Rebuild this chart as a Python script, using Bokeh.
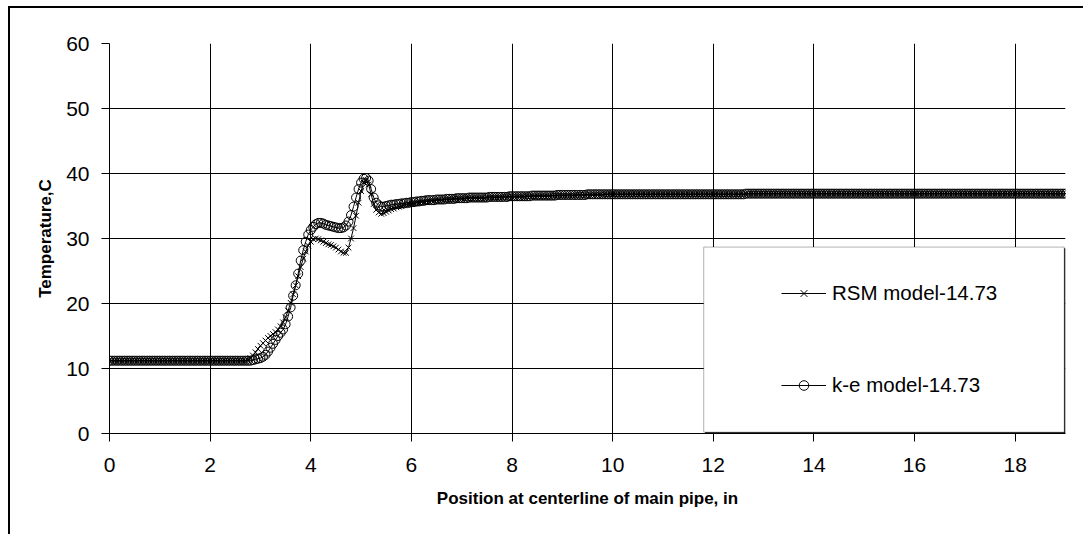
from bokeh.plotting import figure
from bokeh.models import Legend, LegendItem, BoxAnnotation, FixedTicker, Range1d
from bokeh.embed import file_html
from bokeh.resources import INLINE

# ---- data ----
x_pos = [
    0.00, 0.05, 0.10, 0.15, 0.20, 0.25, 0.30, 0.35, 0.40, 0.45, 0.50, 0.55, 0.60, 0.65, 0.70, 0.75, 0.80, 0.85, 0.90, 0.95,
    1.00, 1.05, 1.10, 1.15, 1.20, 1.25, 1.30, 1.35, 1.40, 1.45, 1.50, 1.55, 1.60, 1.65, 1.70, 1.75, 1.80, 1.85, 1.90, 1.95,
    2.00, 2.05, 2.10, 2.15, 2.20, 2.25, 2.30, 2.35, 2.40, 2.45, 2.50, 2.55, 2.60, 2.65, 2.70,
    2.75, 2.80, 2.85, 2.90, 2.95, 3.00, 3.05, 3.10, 3.15, 3.20, 3.25, 3.30, 3.35, 3.40, 3.45, 3.50, 3.55, 3.60, 3.65, 3.70,
    3.75, 3.80, 3.85, 3.90, 3.95, 4.00, 4.05, 4.10, 4.15, 4.20, 4.25, 4.30, 4.35, 4.40, 4.45, 4.50, 4.55, 4.60, 4.65, 4.70,
    4.75, 4.80, 4.85, 4.90, 4.95, 5.00, 5.05, 5.10, 5.15, 5.20, 5.25, 5.30, 5.35, 5.40, 5.45, 5.50, 5.55, 5.60,
    5.65, 5.70, 5.75, 5.80, 5.85, 5.90, 5.95, 6.00, 6.05, 6.10, 6.15, 6.20, 6.25, 6.30, 6.35, 6.40, 6.45, 6.50, 6.55, 6.60,
    6.65, 6.70, 6.75, 6.80, 6.85, 6.90, 6.95, 7.00, 7.05, 7.10, 7.15, 7.20, 7.25, 7.30, 7.35, 7.40, 7.45, 7.50, 7.55, 7.60,
    7.65, 7.70, 7.75, 7.80, 7.85, 7.90, 7.95, 8.00, 8.05, 8.10, 8.15, 8.20, 8.25, 8.30, 8.35, 8.40, 8.45, 8.50, 8.55, 8.60,
    8.65, 8.70, 8.75, 8.80, 8.85, 8.90, 8.95, 9.00, 9.05, 9.10, 9.15, 9.20, 9.25, 9.30, 9.35, 9.40, 9.45, 9.50, 9.55, 9.60,
    9.65, 9.70, 9.75, 9.80, 9.85, 9.90, 9.95, 10.00, 10.05, 10.10, 10.15, 10.20, 10.25, 10.30, 10.35, 10.40, 10.45, 10.50, 10.55, 10.60,
    10.65, 10.70, 10.75, 10.80, 10.85, 10.90, 10.95, 11.00, 11.05, 11.10, 11.15, 11.20, 11.25, 11.30, 11.35, 11.40, 11.45, 11.50, 11.55, 11.60,
    11.65, 11.70, 11.75, 11.80, 11.85, 11.90, 11.95, 12.00, 12.05, 12.10, 12.15, 12.20, 12.25, 12.30, 12.35, 12.40, 12.45, 12.50, 12.55, 12.60,
    12.65, 12.70, 12.75, 12.80, 12.85, 12.90, 12.95, 13.00, 13.05, 13.10, 13.15, 13.20, 13.25, 13.30, 13.35, 13.40, 13.45, 13.50, 13.55, 13.60,
    13.65, 13.70, 13.75, 13.80, 13.85, 13.90, 13.95, 14.00, 14.05, 14.10, 14.15, 14.20, 14.25, 14.30, 14.35, 14.40, 14.45, 14.50, 14.55, 14.60,
    14.65, 14.70, 14.75, 14.80, 14.85, 14.90, 14.95, 15.00, 15.05, 15.10, 15.15, 15.20, 15.25, 15.30, 15.35, 15.40, 15.45, 15.50, 15.55, 15.60,
    15.65, 15.70, 15.75, 15.80, 15.85, 15.90, 15.95, 16.00, 16.05, 16.10, 16.15, 16.20, 16.25, 16.30, 16.35, 16.40, 16.45, 16.50, 16.55, 16.60,
    16.65, 16.70, 16.75, 16.80, 16.85, 16.90, 16.95, 17.00, 17.05, 17.10, 17.15, 17.20, 17.25, 17.30, 17.35, 17.40, 17.45, 17.50, 17.55, 17.60,
    17.65, 17.70, 17.75, 17.80, 17.85, 17.90, 17.95, 18.00, 18.05, 18.10, 18.15, 18.20, 18.25, 18.30, 18.35, 18.40, 18.45, 18.50, 18.55, 18.60,
    18.65, 18.70, 18.75, 18.80, 18.85, 18.90, 18.95, 19.00,
]

t_rsm = [
    11.2, 11.2, 11.2, 11.2, 11.2, 11.2, 11.2, 11.2, 11.2, 11.2, 11.2, 11.2, 11.2, 11.2, 11.2, 11.2, 11.2, 11.2, 11.2, 11.2,
    11.2, 11.2, 11.2, 11.2, 11.2, 11.2, 11.2, 11.2, 11.2, 11.2, 11.2, 11.2, 11.2, 11.2, 11.2, 11.2, 11.2, 11.2, 11.2, 11.2,
    11.2, 11.2, 11.2, 11.2, 11.2, 11.2, 11.2, 11.2, 11.2, 11.2, 11.2, 11.2, 11.2, 11.2, 11.2,
    11.3, 11.6, 12.0, 12.5, 13.0, 13.5, 13.9, 14.3, 14.7, 15.0, 15.3, 15.6, 16.0, 16.5, 17.1, 17.9, 18.9, 20.1, 21.4, 22.8,
    24.2, 25.6, 26.9, 28.0, 28.9, 29.5, 29.9, 30.0, 29.9, 29.7, 29.5, 29.3, 29.1, 29.0, 28.8, 28.6, 28.3, 28.0, 27.8, 27.8,
    28.6, 30.0, 31.6, 33.5, 35.5, 37.3, 38.6, 39.0, 38.3, 36.8, 35.3, 34.4, 34.0, 33.8, 33.9, 34.1, 34.3, 34.5,
    34.6, 34.8, 34.9, 35.0, 35.1, 35.2, 35.3, 35.4, 35.4, 35.5, 35.5, 35.6, 35.6, 35.7, 35.7, 35.8, 35.8, 35.9, 35.9, 35.9,
    36.0, 36.0, 36.0, 36.0, 36.1, 36.1, 36.1, 36.1, 36.1, 36.2, 36.2, 36.2, 36.2, 36.2, 36.2, 36.2, 36.2, 36.3, 36.3, 36.3,
    36.3, 36.3, 36.3, 36.3, 36.4, 36.4, 36.4, 36.4, 36.4, 36.4, 36.4, 36.4, 36.4, 36.5, 36.5, 36.5, 36.5, 36.5, 36.5, 36.5,
    36.5, 36.5, 36.5, 36.6, 36.6, 36.6, 36.6, 36.6, 36.6, 36.6, 36.6, 36.6, 36.6, 36.7, 36.7, 36.7, 36.7, 36.7, 36.7, 36.7,
    36.7, 36.7, 36.7, 36.7, 36.8, 36.8, 36.8, 36.8, 36.8, 36.8, 36.8, 36.8, 36.8, 36.8, 36.8, 36.8, 36.8, 36.8, 36.8, 36.8,
    36.8, 36.8, 36.8, 36.8, 36.8, 36.8, 36.8, 36.8, 36.8, 36.8, 36.8, 36.8, 36.8, 36.8, 36.8, 36.8, 36.8, 36.8, 36.8, 36.8,
    36.8, 36.8, 36.8, 36.8, 36.8, 36.8, 36.8, 36.8, 36.8, 36.8, 36.8, 36.8, 36.8, 36.8, 36.8, 36.8, 36.8, 36.8, 36.8, 36.8,
    36.9, 36.9, 36.9, 36.9, 36.9, 36.9, 36.9, 36.9, 36.9, 36.9, 36.9, 36.9, 36.9, 36.9, 36.9, 36.9, 36.9, 36.9, 36.9, 36.9,
    36.9, 36.9, 36.9, 36.9, 36.9, 36.9, 36.9, 36.9, 36.9, 36.9, 36.9, 36.9, 36.9, 36.9, 36.9, 36.9, 36.9, 36.9, 36.9, 36.9,
    36.9, 36.9, 36.9, 36.9, 36.9, 36.9, 36.9, 36.9, 36.9, 36.9, 36.9, 36.9, 36.9, 36.9, 36.9, 36.9, 36.9, 36.9, 36.9, 36.9,
    36.9, 36.9, 36.9, 36.9, 36.9, 36.9, 36.9, 36.9, 36.9, 36.9, 36.9, 36.9, 36.9, 36.9, 36.9, 36.9, 36.9, 36.9, 36.9, 36.9,
    36.9, 36.9, 36.9, 36.9, 36.9, 36.9, 36.9, 36.9, 36.9, 36.9, 36.9, 36.9, 36.9, 36.9, 36.9, 36.9, 36.9, 36.9, 36.9, 36.9,
    36.9, 36.9, 36.9, 36.9, 36.9, 36.9, 36.9, 36.9, 36.9, 36.9, 36.9, 36.9, 36.9, 36.9, 36.9, 36.9, 36.9, 36.9, 36.9, 36.9,
    36.9, 36.9, 36.9, 36.9, 36.9, 36.9, 36.9, 36.9,
]

t_ke = [
    11.2, 11.2, 11.2, 11.2, 11.2, 11.2, 11.2, 11.2, 11.2, 11.2, 11.2, 11.2, 11.2, 11.2, 11.2, 11.2, 11.2, 11.2, 11.2, 11.2,
    11.2, 11.2, 11.2, 11.2, 11.2, 11.2, 11.2, 11.2, 11.2, 11.2, 11.2, 11.2, 11.2, 11.2, 11.2, 11.2, 11.2, 11.2, 11.2, 11.2,
    11.2, 11.2, 11.2, 11.2, 11.2, 11.2, 11.2, 11.2, 11.2, 11.2, 11.2, 11.2, 11.2, 11.2, 11.2,
    11.2, 11.2, 11.3, 11.4, 11.5, 11.6, 11.8, 12.1, 12.6, 13.2, 13.8, 14.4, 15.0, 15.5, 16.0, 16.8, 18.0, 19.4, 21.2, 22.8,
    24.6, 26.6, 28.2, 29.5, 30.6, 31.3, 31.8, 32.2, 32.4, 32.4, 32.3, 32.1, 32.0, 31.9, 31.8, 31.7, 31.6, 31.6, 31.7, 32.0,
    32.6, 33.6, 34.9, 36.3, 37.6, 38.6, 39.2, 39.3, 38.9, 37.6, 36.3, 35.5, 35.1, 34.9, 34.9, 35.0, 35.1, 35.2,
    35.2, 35.3, 35.3, 35.4, 35.4, 35.5, 35.5, 35.6, 35.6, 35.7, 35.7, 35.8, 35.8, 35.9, 35.9, 35.9, 35.9, 36.0, 36.0, 36.0,
    36.0, 36.1, 36.1, 36.1, 36.1, 36.2, 36.2, 36.2, 36.2, 36.2, 36.3, 36.3, 36.3, 36.3, 36.3, 36.3, 36.3, 36.3, 36.4, 36.4,
    36.4, 36.4, 36.4, 36.4, 36.4, 36.4, 36.5, 36.5, 36.5, 36.5, 36.5, 36.5, 36.5, 36.5, 36.5, 36.6, 36.6, 36.6, 36.6, 36.6,
    36.6, 36.6, 36.6, 36.6, 36.6, 36.7, 36.7, 36.7, 36.7, 36.7, 36.7, 36.7, 36.7, 36.7, 36.7, 36.7, 36.7, 36.8, 36.8, 36.8,
    36.8, 36.8, 36.8, 36.8, 36.8, 36.8, 36.8, 36.8, 36.8, 36.8, 36.8, 36.8, 36.8, 36.8, 36.8, 36.8, 36.8, 36.8, 36.8, 36.8,
    36.8, 36.8, 36.8, 36.8, 36.8, 36.8, 36.8, 36.8, 36.8, 36.8, 36.8, 36.8, 36.8, 36.8, 36.8, 36.8, 36.8, 36.8, 36.8, 36.8,
    36.8, 36.8, 36.8, 36.8, 36.8, 36.8, 36.8, 36.8, 36.8, 36.8, 36.8, 36.8, 36.8, 36.8, 36.8, 36.8, 36.8, 36.8, 36.8, 36.8,
    36.9, 36.9, 36.9, 36.9, 36.9, 36.9, 36.9, 36.9, 36.9, 36.9, 36.9, 36.9, 36.9, 36.9, 36.9, 36.9, 36.9, 36.9, 36.9, 36.9,
    36.9, 36.9, 36.9, 36.9, 36.9, 36.9, 36.9, 36.9, 36.9, 36.9, 36.9, 36.9, 36.9, 36.9, 36.9, 36.9, 36.9, 36.9, 36.9, 36.9,
    36.9, 36.9, 36.9, 36.9, 36.9, 36.9, 36.9, 36.9, 36.9, 36.9, 36.9, 36.9, 36.9, 36.9, 36.9, 36.9, 36.9, 36.9, 36.9, 36.9,
    36.9, 36.9, 36.9, 36.9, 36.9, 36.9, 36.9, 36.9, 36.9, 36.9, 36.9, 36.9, 36.9, 36.9, 36.9, 36.9, 36.9, 36.9, 36.9, 36.9,
    36.9, 36.9, 36.9, 36.9, 36.9, 36.9, 36.9, 36.9, 36.9, 36.9, 36.9, 36.9, 36.9, 36.9, 36.9, 36.9, 36.9, 36.9, 36.9, 36.9,
    36.9, 36.9, 36.9, 36.9, 36.9, 36.9, 36.9, 36.9, 36.9, 36.9, 36.9, 36.9, 36.9, 36.9, 36.9, 36.9, 36.9, 36.9, 36.9, 36.9,
    36.9, 36.9, 36.9, 36.9, 36.9, 36.9, 36.9, 36.9,
]

x_ticks = [0, 2, 4, 6, 8, 10, 12, 14, 16, 18]
y_ticks = [0, 10, 20, 30, 40, 50, 60]
series_names = ["RSM model-14.73", "k-e model-14.73"]

FONT = "Liberation Sans"

p = figure(width=1075, height=528, output_backend="svg", toolbar_location=None,
           x_range=Range1d(0, 19), y_range=Range1d(0, 60),
           min_border_left=99, min_border_right=20,
           min_border_top=35, min_border_bottom=103)
p.styles = {"margin-left": "8px", "margin-top": "6px",
            "border-left": "2px solid black", "border-top": "2px solid black"}
p.background_fill_color = "white"
p.border_fill_color = "white"
p.outline_line_color = None

p.xaxis.ticker = FixedTicker(ticks=x_ticks)
p.yaxis.ticker = FixedTicker(ticks=y_ticks)
p.xgrid.ticker = FixedTicker(ticks=x_ticks)
p.ygrid.ticker = FixedTicker(ticks=y_ticks)
p.grid.grid_line_color = "black"
p.grid.grid_line_width = 1

for ax in (p.xaxis[0], p.yaxis[0]):
    ax.axis_line_color = "black"
    ax.axis_line_width = 1
    ax.major_tick_line_color = "black"
    ax.major_tick_out = 8
    ax.major_tick_in = 0
    ax.minor_tick_out = 0
    ax.minor_tick_in = 0
    ax.major_label_text_font = FONT
    ax.major_label_text_font_size = "21px"
    ax.major_label_text_color = "black"
    ax.axis_label_text_font = FONT
    ax.axis_label_text_font_size = "17px"
    ax.axis_label_text_font_style = "bold"
    ax.axis_label_text_color = "black"

p.xaxis.major_label_standoff = 16
p.yaxis.major_label_standoff = 12
p.xaxis.axis_label = "Position at centerline of main pipe, in"
p.yaxis.axis_label = "Temperature,C"
p.xaxis.axis_label_standoff = 14
p.yaxis.axis_label_standoff = 8

# data
l1 = p.line(x_pos, t_rsm, line_color="black", line_width=1)
s1 = p.scatter(x_pos, t_rsm, marker="x", size=8, line_color="black", line_width=1)
l2 = p.line(x_pos, t_ke, line_color="black", line_width=1)
s2 = p.scatter(x_pos, t_ke, marker="circle", size=9, line_color="black",
               line_width=1, fill_alpha=0)

# legend box (with a thin shadow on the right and bottom)
shadow = BoxAnnotation(left=11.835, right=19.0, top=28.5, bottom=0.03,
                       fill_color="black", fill_alpha=1, line_alpha=0)
box = BoxAnnotation(left=11.81, right=18.975, top=28.68, bottom=0.2,
                    fill_color="white", fill_alpha=1, line_color="black", line_width=1)
p.add_layout(shadow)
p.add_layout(box)

legend = Legend(items=[LegendItem(label=series_names[0], renderers=[l1, s1]),
                       LegendItem(label=series_names[1], renderers=[l2, s2])],
                location=(672, 36), padding=0, margin=0, spacing=68,
                label_height=24, glyph_height=24, glyph_width=45, label_standoff=6,
                background_fill_alpha=0, border_line_alpha=0,
                label_text_font=FONT, label_text_font_size="20.5px",
                label_text_color="black")
p.add_layout(legend)

open("out.html", "w").write(file_html(p, INLINE))
